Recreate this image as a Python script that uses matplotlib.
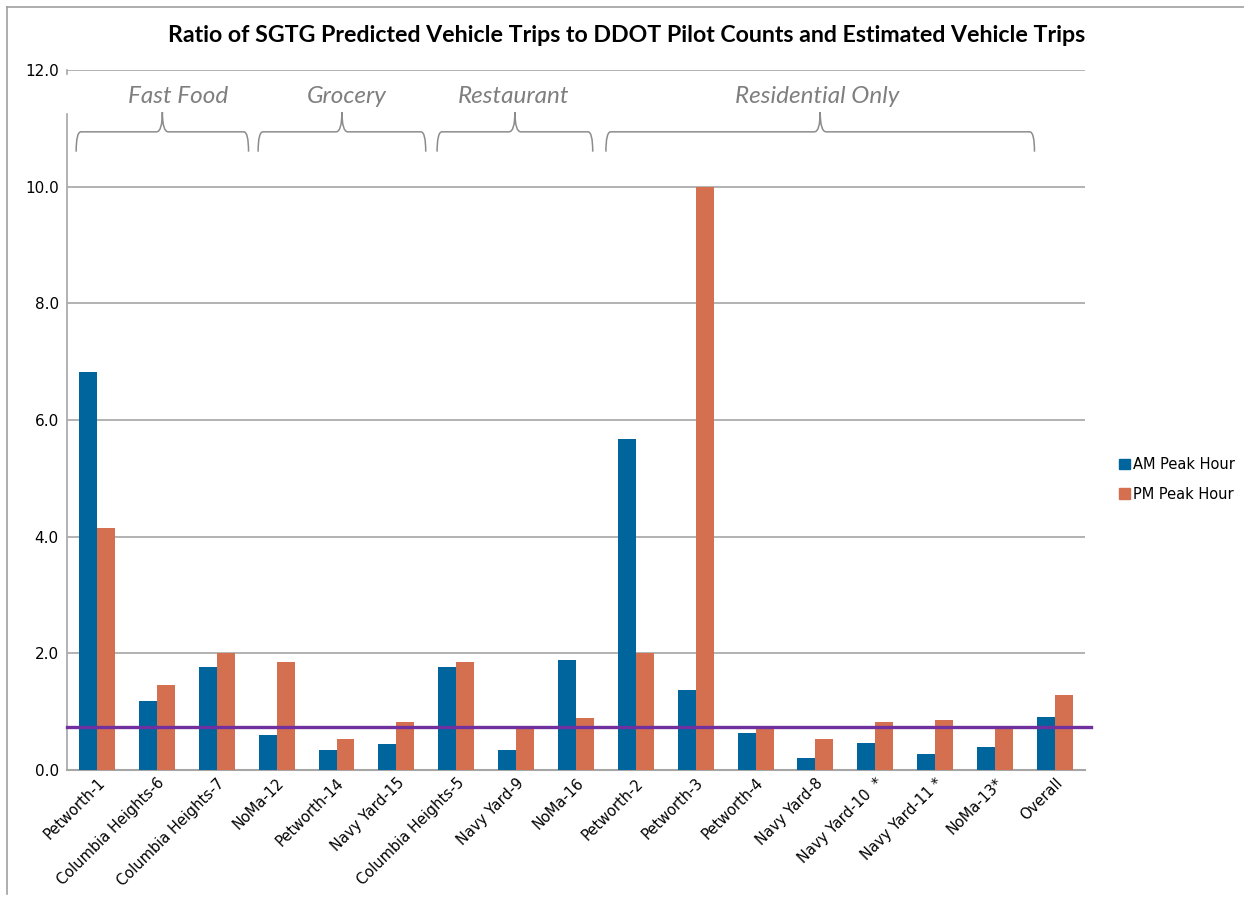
import matplotlib.pyplot as plt
import numpy as np
from matplotlib.path import Path
from matplotlib.patches import PathPatch, Patch
from matplotlib.lines import Line2D

# data
sites = ["Petworth-1", "Columbia Heights-6", "Columbia Heights-7", "NoMa-12",
         "Petworth-14", "Navy Yard-15", "Columbia Heights-5", "Navy Yard-9",
         "NoMa-16", "Petworth-2", "Petworth-3", "Petworth-4", "Navy Yard-8",
         "Navy Yard-10  *", "Navy Yard-11 *", "NoMa-13*", "Overall"]
am_peak = [6.82, 1.19, 1.77, 0.60, 0.34, 0.44, 1.77, 0.34, 1.89,
           5.67, 1.37, 0.63, 0.21, 0.46, 0.28, 0.39, 0.91]
pm_peak = [4.15, 1.46, 2.00, 1.85, 0.53, 0.83, 1.85, 0.76, 0.89,
           2.00, 10.00, 0.74, 0.53, 0.83, 0.86, 0.70, 1.28]
target_ratio = 0.74

groups = ["Fast Food", "Grocery", "Restaurant", "Residential Only"]
group_sizes = [3, 3, 3, 7]

blue = "#00659c"
orange = "#d4704f"
purple = "#7030a0"
grid_gray = "#a6a6a6"
label_gray = "#7f7f7f"

fig = plt.figure(figsize=(12.44, 9.01), dpi=100)
ax = fig.add_axes([0.054, 0.1454, 0.818, 0.7769])

x = np.arange(len(sites))
w = 0.3
ax.bar(x - w / 2, am_peak, w, color=blue, zorder=3)
ax.bar(x + w / 2, pm_peak, w, color=orange, zorder=3)

ax.plot([-0.5, 16.6], [target_ratio, target_ratio], color=purple, lw=2.4,
        zorder=4, clip_on=False)

ax.set_xlim(-0.5, 16.5)
ax.set_ylim(0, 12)
ax.set_yticks(np.arange(0, 12.1, 2))
ax.set_yticklabels([f"{v:.1f}" for v in np.arange(0, 12.1, 2)], fontsize=11)
ax.yaxis.grid(True, color=grid_gray, lw=1.2, zorder=0)
ax.set_axisbelow(True)
ax.tick_params(axis="both", length=0, pad=6)
ax.set_xticks(x)
ax.set_xticklabels(sites, rotation=45, ha="right", rotation_mode="anchor",
                   fontsize=10.5)
ax.tick_params(axis="x", pad=4)

for s in ["top", "right"]:
    ax.spines[s].set_visible(False)
ax.spines["bottom"].set_color(grid_gray)
ax.spines["bottom"].set_linewidth(1.5)
ax.spines["left"].set_color(grid_gray)
ax.spines["left"].set_linewidth(1.2)
ax.spines["left"].set_bounds(0, 11.25)
ax.plot([-0.5, -0.5], [11.93, 12], color=grid_gray, lw=1.2, clip_on=False)

# category braces (left/right overhang in category units, label shift)
brace_pad = [(0.35, 0.53), (0.31, 0.49), (0.32, 0.28), (0.50, 0.66)]
label_shift = [0.27, 0.08, -0.03, -0.05]
start = 0
for name, n, (pl, pr), dx in zip(groups, group_sizes, brace_pad, label_shift):
    x0 = start - pl
    x1 = start + n - 1 + pr
    xc = (x0 + x1) / 2
    yb, yh, yt = 10.6, 10.94, 11.28
    verts = [(x0, yb), (x0, yh), (x0 + 0.08, yh), (xc - 0.1, yh), (xc, yh),
             (xc, yt), (xc, yh), (xc + 0.1, yh), (x1 - 0.08, yh), (x1, yh),
             (x1, yb)]
    codes = [Path.MOVETO, Path.CURVE3, Path.CURVE3, Path.LINETO, Path.CURVE3,
             Path.CURVE3, Path.CURVE3, Path.CURVE3, Path.LINETO, Path.CURVE3,
             Path.CURVE3]
    ax.add_patch(PathPatch(Path(verts, codes), fill=False, ec="#8c8c8c",
                           lw=1.1, zorder=5))
    ax.text(xc + dx, 11.54, name, ha="center", va="center", fontsize=17.5,
            style="italic", color=label_gray, family="Lato")
    start += n

fig.text(0.504, 0.961, "Ratio of SGTG Predicted Vehicle Trips to DDOT Pilot "
         "Counts and Estimated Vehicle Trips", ha="center", va="center",
         fontsize=16.7, fontweight="bold", family="Lato")

handles = [Patch(color=blue), Patch(color=orange)]
fig.legend(handles, ["AM Peak Hour", "PM Peak Hour"], loc="center left",
           bbox_to_anchor=(0.894, 0.468), frameon=False, fontsize=10.5,
           handlelength=0.75, handleheight=0.75, handletextpad=0.15,
           labelspacing=1.0, borderpad=0)

# outer frame (top and left edges)
fig.add_artist(Line2D([0.006, 1.0], [0.992, 0.992], color="#a0a0a0", lw=1.2))
fig.add_artist(Line2D([0.006, 0.006], [0.008, 0.992], color="#a0a0a0", lw=1.2))

fig.savefig("out.png", dpi=100)
